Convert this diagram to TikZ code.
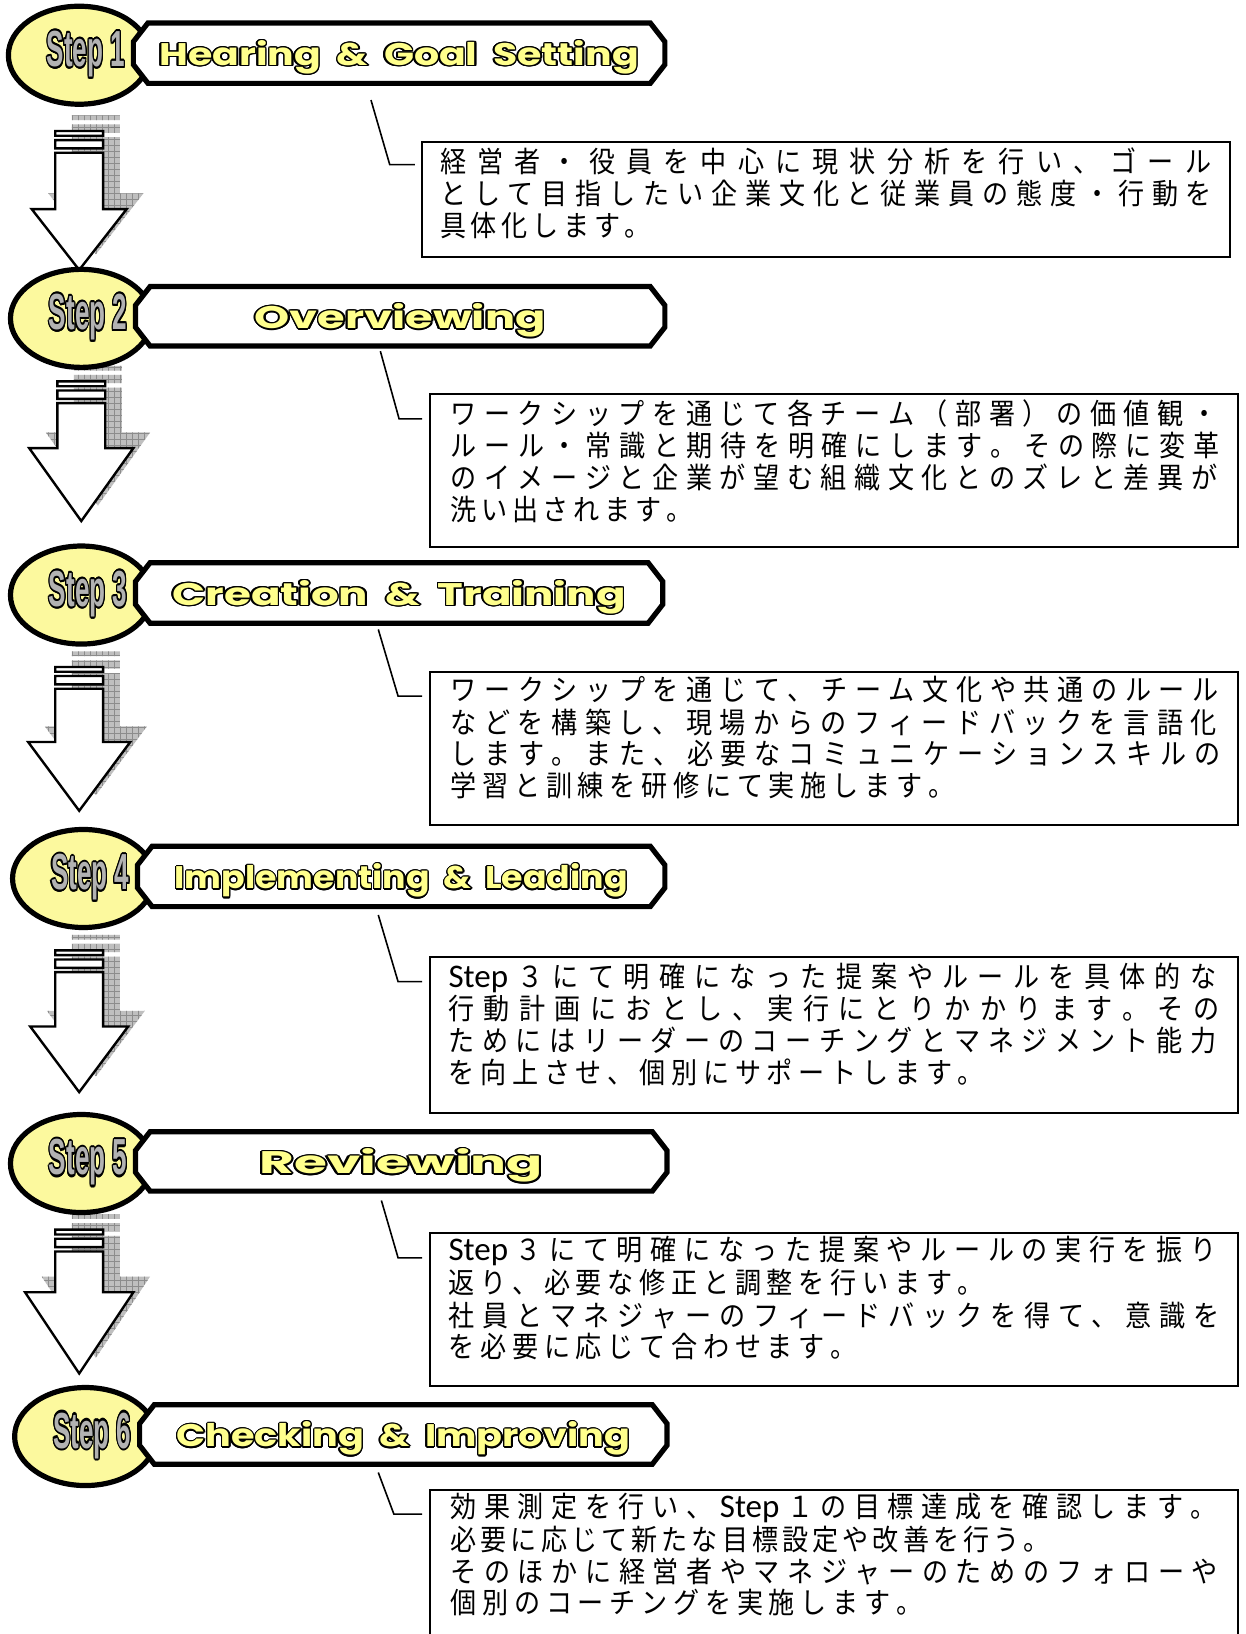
\documentclass[tikz,border=0pt]{standalone}
\usepackage{fontspec}
\usepackage{graphicx}
\usepackage{contour}
\usetikzlibrary{patterns,shapes.geometric}
\newfontfamily\jpfont[FakeStretch=0.9]{Noto Sans CJK JP}
\newfontfamily\stpfont{Carlito}
\newfontfamily\titfont{Poppins}
\newfontfamily\labfont{Liberation Sans}
\newdimen\uu \uu=0.5209pt
\definecolor{ellyellow}{HTML}{FCF99E}
\definecolor{tityellow}{HTML}{FFFF8C}
\newcommand\stp{\stpfont\fontsize{16.5pt}{16.5pt}\selectfont}
\contourlength{0.4pt}

\ExplSyntaxOn
\dim_new:N \l__jl_nat_dim
\dim_new:N \l__jl_sp_dim
\int_new:N \l__jl_n_int
\bool_new:N \l__jl_first_bool
\cs_new_protected:Npn \__jl_out:n #1
 {
  \hbox:n
   {
    \bool_set_true:N \l__jl_first_bool
    \tl_map_inline:nn {#1}
     {
      \bool_if:NF \l__jl_first_bool { \skip_horizontal:N \l__jl_sp_dim }
      \bool_set_false:N \l__jl_first_bool
      { ##1 }
     }
   }
 }
\cs_new_protected:Npn \jlw #1#2
 {
  \hbox_set:Nn \l_tmpa_box {#2}
  \dim_set:Nn \l__jl_nat_dim { \box_wd:N \l_tmpa_box }
  \int_set:Nn \l__jl_n_int { \tl_count:n {#2} - 1 }
  \dim_set:Nn \l__jl_sp_dim { ( #1 - \l__jl_nat_dim ) / \l__jl_n_int }
  \__jl_out:n {#2}
 }
\cs_new_protected:Npn \jls #1#2
 {
  \dim_set:Nn \l__jl_sp_dim {#1}
  \__jl_out:n {#2}
 }
\ExplSyntaxOff

\tikzset{
  ell/.style={draw, line width=2.6pt, fill=ellyellow, ellipse, minimum width=70.8pt, minimum height=49pt, inner sep=0pt},
  banner/.style={draw, line width=2.6pt, fill=white, line join=miter},
  arr/.style={draw, line width=1.2pt, fill=white, line join=miter},
  shad/.style={fill=black!25, postaction={pattern=grid, pattern color=black!45}},
  callout/.style={line width=0.8pt},
  tbox/.style={draw, line width=1pt},
  jline/.style={anchor=west, inner sep=0pt, font=\jpfont\fontsize{14.5pt}{16pt}\selectfont},
  tit/.style={anchor=base, inner sep=0pt, font=\titfont\bfseries},
  lab/.style={anchor=base, inner sep=0pt, font=\labfont\bfseries},
}
\newcommand\ws{\hspace{0.4em}}

% #1 num, #2 left, #3 right, #4 top, #5 bottom, #6 title width, #7 title
\newcommand\stephead[7]{%
  \pgfmathsetmacro\ecx{#2-52}%
  \pgfmathsetmacro\ecy{(#4+#5)/2+2}%
  \pgfmathsetmacro\bmid{(#4+#5)/2}%
  \pgfmathsetmacro\bcx{(#2+#3)/2}%
  \node[ell] (ell#1) at (\ecx,\ecy) {};
  \draw[banner] (#2+14,#4) -- (#3-14,#4) -- (#3,#4+18) -- (#3,#5-18) -- (#3-14,#5) -- (#2+14,#5) -- (#2,#5-18) -- (#2,#4+18) -- cycle;
  \node[lab] (lab#1) at (\ecx+6.5,\ecy+11) {\resizebox{39.1pt}{17.7pt}{\color{black!30}\contour{black}{Step #1}}};
  \node[tit] (tit#1) at (\bcx,\bmid+12) {\resizebox{#6\uu}{12.5pt}{\color{tityellow}\contour{black}{#7}}};
}

% #1 cx, #2 bar top, #3 head y, #4 head half width, #5 tip y
\newcommand\arrshape[5]{%
  (#1-23,#2) rectangle (#1+23,#2+4.6)
  (#1-23,#2+8.7) rectangle (#1+23,#2+16.7)
  (#1-23,#2+20.9) -- (#1+23,#2+20.9) -- (#1+23,#3) -- (#1+#4,#3) -- (#1,#5) -- (#1-#4,#3) -- (#1-23,#3) -- cycle
}
\newcommand\dnarrow[5]{%
  \begin{scope}[shift={(16,-15)}]
    \path[shad] \arrshape{#1}{#2}{#3}{#4}{#5};
  \end{scope}
  \path[arr] \arrshape{#1}{#2}{#3}{#4}{#5};
}

\begin{document}
\begin{tikzpicture}[x=0.5209pt,y=-0.5209pt]
\useasboundingbox[fill=white] (0,0) rectangle (1195,1568);

% arrows
\dnarrow{76}{125.7}{200.6}{45.6}{259}
\dnarrow{78}{366}{430}{50}{500}
\dnarrow{76}{640}{712}{49}{778}
\dnarrow{76}{912}{985}{47}{1048}
\dnarrow{76}{1180}{1240}{52}{1318}

% step headers
\stephead{1}{128}{638}{22}{80}{460}{Hearing\ws\&\ws Goal\ws Setting}
\stephead{2}{130}{638}{275}{332}{279}{Overviewing}
\stephead{3}{130}{636}{540}{598}{435}{Creation\ws\&\ws Training}
\stephead{4}{132}{638}{812}{870}{435}{Implementing\ws\&\ws Leading}
\stephead{5}{130}{640}{1086}{1143}{272}{Reviewing}
\stephead{6}{134}{640}{1348}{1405}{435}{Checking\ws\&\ws Improving}

% callouts
\coordinate (k1a) at (356,96);   \coordinate (k1b) at (374,158);  \coordinate (k1c) at (398,158);
\coordinate (k2a) at (365,337);  \coordinate (k2b) at (383,402);  \coordinate (k2c) at (405,402);
\coordinate (k3a) at (363,604);  \coordinate (k3b) at (382,668);  \coordinate (k3c) at (405,668);
\coordinate (k4a) at (363,878);  \coordinate (k4b) at (382,942);  \coordinate (k4c) at (405,942);
\coordinate (k5a) at (366,1152); \coordinate (k5b) at (382,1207); \coordinate (k5c) at (405,1207);
\coordinate (k6a) at (363,1413); \coordinate (k6b) at (378,1453); \coordinate (k6c) at (405,1453);
\foreach \i in {1,...,6} {\draw[callout] (k\i a) -- (k\i b) -- (k\i c);}

% text boxes
\path[tbox] (405,136) rectangle (1180,247);
\path[tbox] (413,378) rectangle (1188,525);
\path[tbox] (413,645) rectangle (1188,792);
\path[tbox] (413,918) rectangle (1188,1068);
\path[tbox] (413,1183) rectangle (1188,1330);
\path[tbox] (413,1430) rectangle (1188,1620);

% box 1
\node[jline] (t1a) at (422,155) {\jlw{740\uu}{経営者・役員を中心に現状分析を行い、ゴール}};
\node[jline] (t1b) at (422,186) {\jlw{740\uu}{として目指したい企業文化と従業員の態度・行動を}};
\node[jline] (t1c) at (422,216) {\jls{4.5\uu}{具体化します。}};
% box 2
\node[jline] (t2a) at (432,397) {\jlw{735\uu}{ワークシップを通じて各チーム（部署）の価値観・}};
\node[jline] (t2b) at (432,428) {\jlw{735\uu}{ルール・常識と期待を明確にします。その際に変革}};
\node[jline] (t2c) at (432,458) {\jlw{735\uu}{のイメージと企業が望む組織文化とのズレと差異が}};
\node[jline] (t2d) at (432,489) {\jls{4.5\uu}{洗い出されます。}};
% box 3
\node[jline] (t3a) at (432,662) {\jlw{735\uu}{ワークシップを通じて、チーム文化や共通のルール}};
\node[jline] (t3b) at (432,693) {\jlw{735\uu}{などを構築し、現場からのフィードバックを言語化}};
\node[jline] (t3c) at (432,723) {\jlw{735\uu}{します。また、必要なコミュニケーションスキルの}};
\node[jline] (t3d) at (432,754) {\jls{5.5\uu}{学習と訓練を研修にて実施します。}};
% box 4
\node[jline] (t4a) at (430,938) {\jlw{737\uu}{{\stp Step}３にて明確になった提案やルールを具体的な}};
\node[jline] (t4b) at (430,968) {\jlw{737\uu}{行動計画におとし、実行にとりかかります。その}};
\node[jline] (t4c) at (430,998) {\jlw{737\uu}{ためにはリーダーのコーチングとマネジメント能力}};
\node[jline] (t4d) at (430,1029) {\jls{5.5\uu}{を向上させ、個別にサポートします。}};
% box 5
\node[jline] (t5a) at (430,1200) {\jlw{737\uu}{{\stp Step}３にて明確になった提案やルールの実行を振り}};
\node[jline] (t5b) at (430,1231) {\jls{5.5\uu}{返り、必要な修正と調整を行います。}};
\node[jline] (t5c) at (430,1262) {\jlw{737\uu}{社員とマネジャーのフィードバックを得て、意識を}};
\node[jline] (t5d) at (430,1292) {\jls{5.5\uu}{を必要に応じて合わせます。}};
% box 6
\node[jline] (t6a) at (432,1447) {\jlw{733\uu}{効果測定を行い、{\stp Step}１の目標達成を確認します。}};
\node[jline] (t6b) at (432,1477) {\jls{3.9\uu}{必要に応じて新たな目標設定や改善を行う。}};
\node[jline] (t6c) at (432,1508) {\jlw{735\uu}{そのほかに経営者やマネジャーのためのフォローや}};
\node[jline] (t6d) at (432,1538) {\jls{5.5\uu}{個別のコーチングを実施します。}};
\end{tikzpicture}
\end{document}
